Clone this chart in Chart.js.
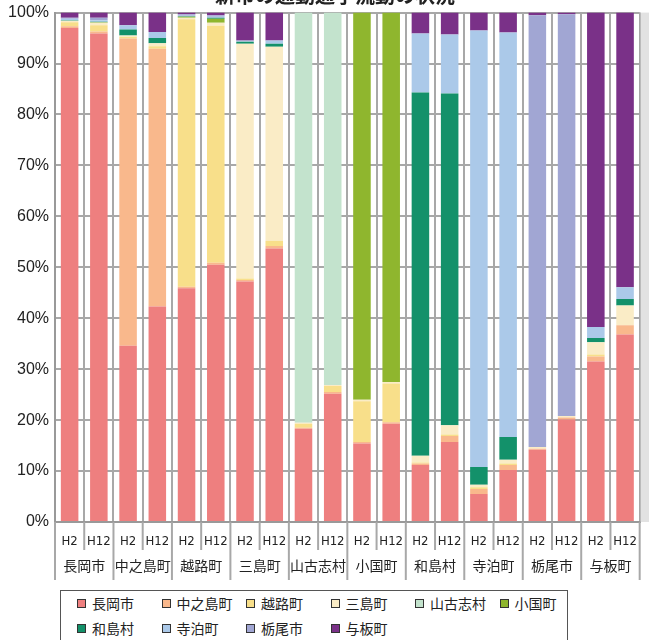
<!DOCTYPE html>
<html>
<head>
<meta charset="utf-8">
<script src="https://cdn.jsdelivr.net/npm/chart.js@4.4.1/dist/chart.umd.min.js"></script>
<style>
  body { margin: 0; background: #fff; }
  #wrap { position: relative; width: 649px; height: 640px; overflow: hidden; background: #fff; }
  #box { position: absolute; left: 0; top: -3px; width: 649px; height: 585px; }
  #legend { position: absolute; left: 60px; top: 590px; width: 508px; height: 70px; border: 1px solid #555;
            box-sizing: border-box; font-family: "Noto Sans CJK JP", sans-serif; font-size: 14px; color: #222; }
  .item { position: absolute; display: flex; align-items: center; white-space: nowrap; height: 20px; }
  .sw { width: 7px; height: 7px; border: 1px solid #333; margin-right: 6px; }
</style>
</head>
<body>
<div id="wrap">
  <div id="box"><canvas id="chart"></canvas></div>
  <div id="legend"></div>
</div>
<script>
// categories
const towns = ['長岡市', '中之島町', '越路町', '三島町', '山古志村', '小国町', '和島村', '寺泊町', '栃尾市', '与板町'];
const periods = ['H2', 'H12', 'H2', 'H12', 'H2', 'H12', 'H2', 'H12', 'H2', 'H12',
                 'H2', 'H12', 'H2', 'H12', 'H2', 'H12', 'H2', 'H12', 'H2', 'H12'];

// share (%) of each destination, one value per bar (town x period)
const nagaoka     = [97.0, 95.9, 34.6, 42.3, 45.9, 50.5, 47.2, 53.7, 18.3, 25.2, 15.4, 19.3, 11.2, 15.7, 5.5, 10.2, 14.2, 20.1, 31.5, 36.8];
const nakanoshima = [0.3, 0.4, 60.3, 50.6, 0.3, 0.4, 0.3, 0.5, 0.2, 0.3, 0.3, 0.3, 0.3, 1.2, 1.0, 1.0, 0.2, 0.4, 1.0, 1.8];
const koshiji     = [0.8, 1.2, 0.3, 0.5, 52.5, 46.5, 0.3, 1.0, 0.8, 1.2, 8.0, 7.6, 0.2, 0.3, 0.3, 0.3, 0, 0, 0.4, 0];
const mishima     = [0.3, 0.5, 0.3, 0.6, 0.3, 0.6, 46.1, 38.1, 0.2, 0.2, 0.3, 0.3, 1.3, 1.8, 0.5, 0.7, 0.3, 0.3, 2.4, 3.9];
const yamakoshi   = [0, 0, 0, 0, 0, 0, 0, 0, 80.5, 73.1, 0, 0, 0, 0, 0, 0, 0, 0, 0, 0];
const oguni       = [0, 0.1, 0, 0, 0.2, 0.8, 0, 0, 0, 0, 76.0, 72.5, 0, 0, 0, 0, 0, 0, 0, 0];
const washima     = [0.1, 0.1, 1.2, 1.0, 0.1, 0.2, 0.4, 0.6, 0, 0, 0, 0, 71.3, 65.1, 3.5, 4.5, 0, 0, 0.8, 1.3];
const teradomari  = [0.3, 0.3, 0.8, 1.2, 0.1, 0.2, 0.1, 0.6, 0, 0, 0, 0, 11.6, 11.6, 85.7, 79.4, 0, 0, 2.2, 2.3];
const tochio      = [0.2, 0.5, 0, 0, 0.3, 0.3, 0.1, 0, 0, 0, 0, 0, 0, 0, 0, 0, 84.8, 78.9, 0, 0];
const yoita       = [1.0, 1.0, 2.5, 3.8, 0.3, 0.5, 5.5, 5.5, 0, 0, 0, 0, 4.1, 4.3, 3.5, 3.9, 0.5, 0.3, 61.7, 53.9];

const series = [nagaoka, nakanoshima, koshiji, mishima, yamakoshi, oguni, washima, teradomari, tochio, yoita];
const colors = ['#ee7f7f', '#f9b88c', '#f8df8a', '#faecc6', '#c3e3cd', '#8fb62e', '#13916a', '#abc9e9', '#a1a6d3', '#7a3188'];

const separators = {
  id: 'separators',
  afterDraw(chart) {
    const { ctx, chartArea, scales } = chart;
    const x = scales.x;
    const step = (x.right - x.left) / periods.length;
    ctx.save();
    ctx.strokeStyle = '#a8a8a8';
    ctx.lineWidth = 2;
    for (let i = 0; i <= periods.length; i++) {
      const px = x.getPixelForValue(0) - step / 2 + i * step;
      const end = chartArea.bottom + (i % 2 === 0 ? 58 : 28);
      ctx.beginPath();
      ctx.moveTo(px, chartArea.bottom);
      ctx.lineTo(px, end);
      ctx.stroke();
    }
    // light strip at the right edge of the plot
    ctx.fillStyle = '#e2e2e2';
    ctx.fillRect(chartArea.right + 1, chartArea.top, chart.width - chartArea.right, chartArea.bottom - chartArea.top);
    // title, mostly cut off at the top edge
    ctx.fillStyle = '#222';
    ctx.font = 'bold 20px "Noto Sans CJK JP"';
    ctx.textAlign = 'center';
    ctx.textBaseline = 'bottom';
    ctx.fillText('新市の通勤通学流動の状況', 335, 8);
    ctx.restore();
  }
};

new Chart(document.getElementById('chart'), {
  type: 'bar',
  data: {
    labels: periods,
    datasets: series.map((d, i) => ({
      label: towns[i],
      data: d,
      backgroundColor: colors[i],
      borderWidth: 0,
      barPercentage: 0.6,
      categoryPercentage: 1
    }))
  },
  options: {
    responsive: true,
    maintainAspectRatio: false,
    animation: false,
    layout: { padding: { top: 9, right: 4, left: 0, bottom: 0 } },
    plugins: {
      legend: { display: false },
      tooltip: { enabled: false }
    },
    scales: {
      y: {
        stacked: true,
        min: 0,
        max: 100,
        ticks: {
          stepSize: 10,
          callback: v => v + '%',
          color: '#222',
          padding: 6,
          font: { family: 'Liberation Sans', size: 16 }
        },
        grid: { color: '#a8a8a8', lineWidth: 2, drawTicks: false },
        border: { color: '#999', width: 2 },
        afterFit: s => { s.width = 55; }
      },
      x: {
        stacked: true,
        weight: 0,
        ticks: {
          color: '#222',
          padding: 12,
          maxRotation: 0,
          autoSkip: false,
          font: { family: 'Liberation Sans Narrow, DejaVu Sans Condensed', size: 13 }
        },
        grid: { color: '#a8a8a8', lineWidth: 2, drawTicks: false, offset: true },
        border: { color: '#999', width: 2 },
        afterFit: s => { s.height = 28; }
      },
      x2: {
        type: 'category',
        position: 'bottom',
        weight: 1,
        labels: towns,
        offset: true,
        ticks: {
          color: '#222',
          padding: -1,
          maxRotation: 0,
          autoSkip: false,
          font: { family: 'Noto Sans CJK JP', size: 14 }
        },
        grid: { display: false },
        border: { display: false },
        afterFit: s => { s.height = 32; }
      }
    }
  },
  plugins: [separators]
});

// legend laid out in fixed columns like the original
const legend = document.getElementById('legend');
towns.forEach((t, i) => {
  const el = document.createElement('div');
  el.className = 'item';
  el.style.left = (16 + (i % 6) * 84.5) + 'px';
  el.style.top = (i < 6 ? 2 : 27) + 'px';
  el.innerHTML = '<span class="sw" style="background:' + colors[i] + '"></span>' + t;
  legend.appendChild(el);
});
</script>
</body>
</html>
